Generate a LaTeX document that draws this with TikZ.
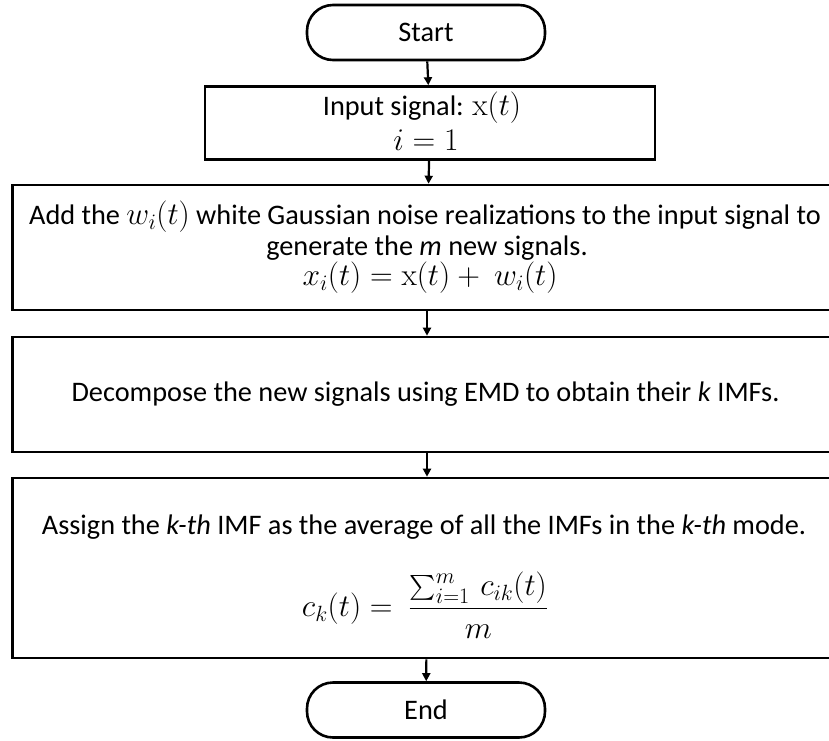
\RequirePackage{fix-cm}
\documentclass[tikz,border=0pt]{standalone}
\usepackage{amsmath}
\usepackage[no-math]{fontspec}
\setmainfont{Carlito}
\usetikzlibrary{arrows.meta}
\newcommand\mth[1]{{\fontsize{31.5}{30.5}\selectfont$#1$}}
\tikzset{
  term/.style={draw, line width=2.6pt, rounded corners=26pt, minimum width=238pt, minimum height=55pt, inner sep=0pt},
  procbox/.style={draw, line width=2.6pt, minimum width=829pt, inner sep=0pt},
  flow/.style={line width=2.2pt, -{Triangle[length=8pt,width=8pt]}},
  txt/.style={inner sep=0pt, align=center}
}
\begin{document}
\begin{tikzpicture}[x=1pt,y=-1pt, font=\fontsize{28.3}{30.5}\selectfont]
\useasboundingbox (0,0) rectangle (829,740);
\clip (0,0) rectangle (829,740);
\node[term] (start) at (426,32.5) {Start};
\node[draw, line width=2.6pt, minimum width=450pt, minimum height=73pt, inner sep=0pt] (input) at (430,123) {};
\node[txt] (inl1) at (422,108) {Input signal: \mth{\mathrm{x}(t)}};
\node[txt] (inl2) at (426,140) {\mth{i = 1}};
\node[procbox, minimum height=125pt] (add) at (427,247.5) {};
\node[txt] (addl1) at (425,217) {Add the \mth{w_i(t)} white Gaussian noise realizations to the input signal to};
\node[txt] (addl2) at (427,248) {generate the \textit{m} new signals.};
\node[txt] (addl3) at (430,278) {\mth{x_i(t) = \mathrm{x}(t) +\ w_i(t)}};
\node[procbox, minimum height=115pt] (dec) at (427,394.5) {};
\node[txt] (dectxt) at (425.5,394) {Decompose the new signals using EMD to obtain their \textit{k} IMFs.};
\node[procbox, minimum height=180pt] (assign) at (427,568) {};
\node[txt] (assigntxt) at (424,527) {Assign the \textit{k-th} IMF as the average of all the IMFs in the \textit{k-th} mode.};
\node[txt] (formula) at (425,605) {\mth{\displaystyle c_k(t) =\ \frac{\sum_{i=1}^{m}\, c_{ik}(t)}{m}}};
\node[term] (end) at (426,710) {End};
\draw[flow] (start) -- (input);
\draw[flow] (input) -- (add);
\draw[flow] (add) -- (dec);
\draw[flow] (dec) -- (assign);
\draw[flow] (assign) -- (end);
\end{tikzpicture}
\end{document}
